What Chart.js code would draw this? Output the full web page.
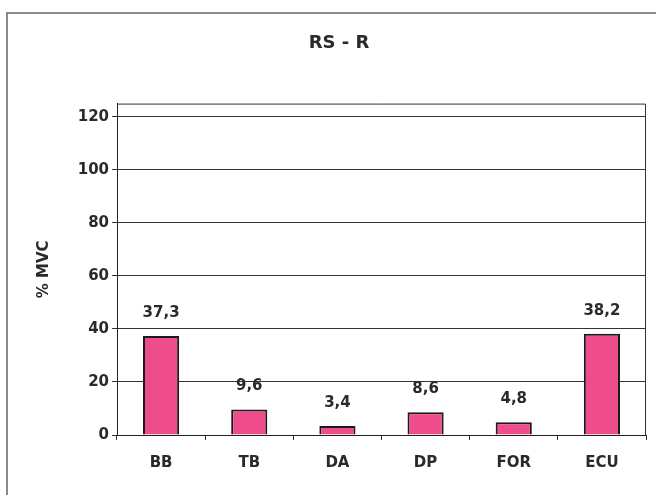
<!DOCTYPE html>
<html>
<head>
<meta charset="utf-8">
<script src="https://cdn.jsdelivr.net/npm/chart.js@4/dist/chart.umd.min.js"></script>
<style>
  html, body { margin: 0; padding: 0; background: #fff; }
  #wrap { position: relative; width: 656px; height: 495px; overflow: hidden; }
  #frame { position: absolute; left: 6px; top: 12px; width: 660px; height: 500px;
           border-left: 2px solid #8a8a8a; border-top: 2px solid #8a8a8a; }
  canvas { position: absolute; left: 0; top: 0; }
</style>
</head>
<body>
<div id="wrap">
  <div id="frame"></div>
  <canvas id="c" width="656" height="495"></canvas>
</div>
<script>
const chartTitle = "RS - R";
const yAxisTitle = "% MVC";
const categories = ["BB", "TB", "DA", "DP", "FOR", "ECU"];
const values = [37.3, 9.6, 3.4, 8.6, 4.8, 38.2];
const yTicks = [0, 20, 40, 60, 80, 100, 120];

const FONT = '"DejaVu Sans", "Liberation Sans", Arial, sans-serif';

const frame = {
  id: 'frame',
  afterDraw(chart) {
    const a = chart.chartArea, ctx = chart.ctx;
    ctx.save();
    ctx.strokeStyle = '#333';
    ctx.lineWidth = 1;
    ctx.beginPath();
    ctx.moveTo(a.left, a.top + 0.5);
    ctx.lineTo(a.right - 0.5, a.top + 0.5);
    ctx.lineTo(a.right - 0.5, a.bottom);
    ctx.stroke();
    ctx.restore();
  }
};

const valueLabels = {
  id: 'valueLabels',
  afterDatasetsDraw(chart) {
    const ctx = chart.ctx;
    const meta = chart.getDatasetMeta(0);
    ctx.save();
    ctx.font = 'bold 15px ' + FONT;
    ctx.fillStyle = '#2a2a2a';
    ctx.textAlign = 'center';
    ctx.textBaseline = 'middle';
    meta.data.forEach((bar, i) => {
      ctx.fillText(String(values[i]).replace('.', ','), bar.x, bar.y - 23);
    });
    ctx.restore();
  }
};

new Chart(document.getElementById('c'), {
  type: 'bar',
  data: {
    labels: categories,
    datasets: [{
      data: values,
      backgroundColor: '#ee4c8b',
      borderColor: '#1a1a1a',
      borderWidth: 2,
      borderSkipped: 'bottom',
      categoryPercentage: 1,
      barPercentage: 0.41
    }]
  },
  options: {
    responsive: false,
    animation: false,
    layout: { padding: { left: 32, right: 10, top: 12, bottom: 9 } },
    plugins: {
      legend: { display: false },
      tooltip: { enabled: false },
      title: {
        display: true,
        text: chartTitle,
        color: '#2a2a2a',
        font: { family: FONT, size: 18, weight: 'bold' },
        padding: { top: 21, bottom: 49 }
      }
    },
    scales: {
      x: {
        grid: { display: true, drawOnChartArea: false, drawTicks: true, tickLength: 5, color: '#333', offset: true },
        border: { display: true, color: '#222', width: 1 },
        ticks: {
          color: '#2a2a2a', padding: 14,
          font: { family: FONT, size: 15, weight: 'bold' }
        }
      },
      y: {
        min: 0,
        max: 125,
        afterBuildTicks(scale) {
          scale.ticks = yTicks.map(v => ({ value: v }));
        },
        afterFit(scale) { scale.width = 85; },
        grid: { color: '#333', lineWidth: 1, drawTicks: true, tickLength: 5 },
        border: { display: true, color: '#222', width: 1 },
        ticks: {
          color: '#2a2a2a', padding: 3,
          font: { family: FONT, size: 15, weight: 'bold' }
        },
        title: {
          display: true,
          text: yAxisTitle,
          color: '#2a2a2a',
          padding: { top: 3, bottom: 0 },
          font: { family: FONT, size: 15, weight: 'bold' }
        }
      }
    }
  },
  plugins: [frame, valueLabels]
});
</script>
</body>
</html>
